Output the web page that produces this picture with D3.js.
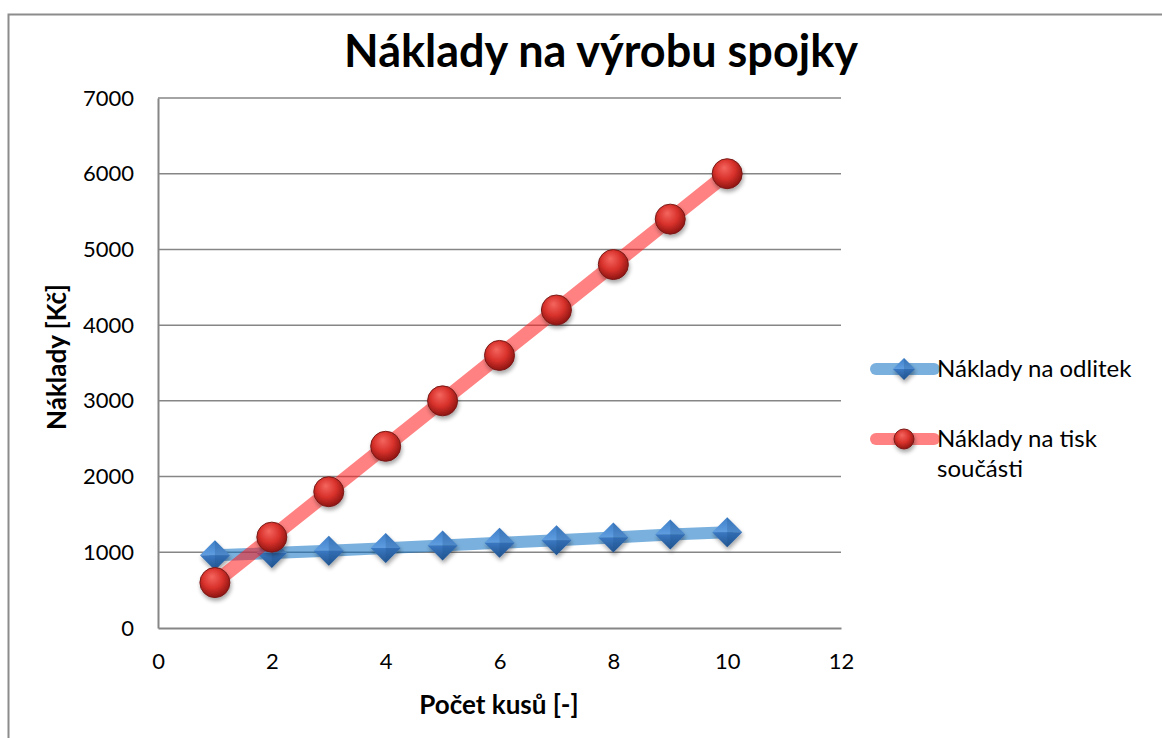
<!DOCTYPE html>
<html>
<head>
<meta charset="utf-8">
<script src="https://cdn.jsdelivr.net/npm/d3@7"></script>
<style>
  html, body { margin: 0; padding: 0; background: #fff; }
  svg { display: block; font-family: Lato, "Open Sans", sans-serif; }
</style>
</head>
<body>
<svg id="chart" width="1162" height="738"></svg>
<script>
// Production cost of a coupling: casting vs. 3D printing
const pieces = [1, 2, 3, 4, 5, 6, 7, 8, 9, 10];
const castingCost = [960, 990, 1020, 1055, 1090, 1125, 1160, 1195, 1235, 1265];
const printingCost = [600, 1200, 1800, 2400, 3000, 3600, 4200, 4800, 5400, 6000];
const xTicks = [0, 2, 4, 6, 8, 10, 12];
const yTicks = [0, 1000, 2000, 3000, 4000, 5000, 6000, 7000];
const seriesNames = ["Náklady na odlitek", "Náklady na tisk součásti"];

const svg = d3.select("#chart");
const plot = { left: 158, top: 98, right: 841, bottom: 628 };

const x = d3.scaleLinear().domain([0, 12]).range([plot.left, plot.right]);
const y = d3.scaleLinear().domain([0, 7000]).range([plot.bottom, plot.top]);

// gradients & shadow
const defs = svg.append("defs");
const ball = defs.append("radialGradient").attr("id", "ball")
  .attr("cx", "45%").attr("cy", "40%").attr("r", "60%").attr("fx", "40%").attr("fy", "30%");
ball.append("stop").attr("offset", "0%").attr("stop-color", "#f4665f");
ball.append("stop").attr("offset", "55%").attr("stop-color", "#d9322c");
ball.append("stop").attr("offset", "100%").attr("stop-color", "#8e1512");

const dTop = defs.append("linearGradient").attr("id", "dTop").attr("x1", 0).attr("y1", 0).attr("x2", 0).attr("y2", 1);
dTop.append("stop").attr("offset", "0%").attr("stop-color", "#3f7fc8");
dTop.append("stop").attr("offset", "100%").attr("stop-color", "#5f9de0");
const dBot = defs.append("linearGradient").attr("id", "dBot").attr("x1", 0).attr("y1", 0).attr("x2", 0).attr("y2", 1);
dBot.append("stop").attr("offset", "0%").attr("stop-color", "#3a78c2");
dBot.append("stop").attr("offset", "100%").attr("stop-color", "#23558f");

const sh = defs.append("filter").attr("id", "shadow").attr("x", "-50%").attr("y", "-50%").attr("width", "200%").attr("height", "200%");
sh.append("feGaussianBlur").attr("in", "SourceAlpha").attr("stdDeviation", 2);
sh.append("feOffset").attr("dx", 1).attr("dy", 3).attr("result", "ob");
sh.append("feComponentTransfer").append("feFuncA").attr("type", "linear").attr("slope", 0.35);
const mg = sh.append("feMerge");
mg.append("feMergeNode");
mg.append("feMergeNode").attr("in", "SourceGraphic");

// outer frame
svg.append("path").attr("d", "M8.5,738 L8.5,14.5 L1162,14.5")
  .attr("fill", "none").attr("stroke", "#8c8c8c").attr("stroke-width", 2);

// title
svg.append("text").attr("x", 601).attr("y", 67).attr("text-anchor", "middle")
  .attr("font-size", 45).attr("font-weight", "bold").attr("fill", "#000")
  .text("Náklady na výrobu spojky");

// gridlines
svg.append("g").selectAll("line").data(yTicks.slice(1)).join("line")
  .attr("x1", plot.left).attr("x2", plot.right)
  .attr("y1", d => y(d)).attr("y2", d => y(d))
  .attr("stroke", "#868686").attr("stroke-width", 1.5);

// axes
const yAxis = svg.append("g").attr("transform", `translate(${plot.left},0)`)
  .call(d3.axisLeft(y).tickValues(yTicks).tickSize(0).tickPadding(24).tickFormat(d3.format("d")));
const xAxis = svg.append("g").attr("transform", `translate(0,${plot.bottom})`)
  .call(d3.axisBottom(x).tickValues(xTicks).tickSize(0).tickPadding(25).tickFormat(d3.format("d")));
[yAxis, xAxis].forEach(g => {
  g.select(".domain").attr("stroke", "#868686").attr("stroke-width", 2);
  g.selectAll("text").attr("font-size", 22).attr("fill", "#000")
    .attr("font-family", "Lato, 'Open Sans', sans-serif");
});

// axis titles
svg.append("text").attr("x", 499).attr("y", 714).attr("text-anchor", "middle")
  .attr("font-size", 26).attr("font-weight", "bold").text("Počet kusů [-]");
svg.append("text").attr("transform", "translate(66,357) rotate(-90)").attr("text-anchor", "middle")
  .attr("font-size", 26).attr("font-weight", "bold").text("Náklady [Kč]");

// marker drawers
function diamond(g, cx, cy, r) {
  const m = g.append("g").attr("filter", "url(#shadow)");
  m.append("path").attr("d", `M${cx - r},${cy} L${cx},${cy - r} L${cx + r},${cy} Z`).attr("fill", "url(#dTop)");
  m.append("path").attr("d", `M${cx - r},${cy} L${cx + r},${cy} L${cx},${cy + r} Z`).attr("fill", "url(#dBot)");
  m.append("path").attr("d", `M${cx},${cy - r} L${cx + r},${cy} L${cx},${cy + r}`).attr("fill", "#1c4f8a").attr("opacity", 0.25);
}
function sphere(g, cx, cy, r) {
  g.append("circle").attr("cx", cx).attr("cy", cy).attr("r", r)
    .attr("fill", "url(#ball)").attr("stroke", "#7a1a18").attr("stroke-width", 1)
    .attr("filter", "url(#shadow)");
}

const line = d3.line();
const castPts = pieces.map((p, i) => [x(p), y(castingCost[i])]);
const printPts = pieces.map((p, i) => [x(p), y(printingCost[i])]);

// casting series
svg.append("path").attr("d", line(castPts)).attr("fill", "none")
  .attr("stroke", "#0b6fc1").attr("stroke-opacity", 0.55).attr("stroke-width", 12).attr("stroke-linecap", "round");
const gc = svg.append("g");
castPts.forEach(([cx, cy]) => diamond(gc, cx, cy, 15));

// printing series
svg.append("path").attr("d", line(printPts)).attr("fill", "none")
  .attr("stroke", "#ff1a1a").attr("stroke-opacity", 0.55).attr("stroke-width", 14).attr("stroke-linecap", "round");
const gp = svg.append("g");
printPts.forEach(([cx, cy]) => sphere(gp, cx, cy, 15));

// legend
const lg = svg.append("g");
lg.append("line").attr("x1", 876).attr("x2", 934).attr("y1", 369).attr("y2", 369)
  .attr("stroke", "#0b6fc1").attr("stroke-opacity", 0.55).attr("stroke-width", 12).attr("stroke-linecap", "round");
diamond(lg, 904, 369, 11);
lg.append("text").attr("x", 937).attr("y", 377).attr("font-size", 24).text(seriesNames[0]);

lg.append("line").attr("x1", 876).attr("x2", 934).attr("y1", 439).attr("y2", 439)
  .attr("stroke", "#ff1a1a").attr("stroke-opacity", 0.55).attr("stroke-width", 12).attr("stroke-linecap", "round");
sphere(lg, 904, 439, 10);
const t2 = lg.append("text").attr("x", 937).attr("y", 447).attr("font-size", 24);
t2.append("tspan").attr("x", 937).text("Náklady na tisk");
t2.append("tspan").attr("x", 937).attr("dy", 30).text("součásti");
</script>
</body>
</html>
